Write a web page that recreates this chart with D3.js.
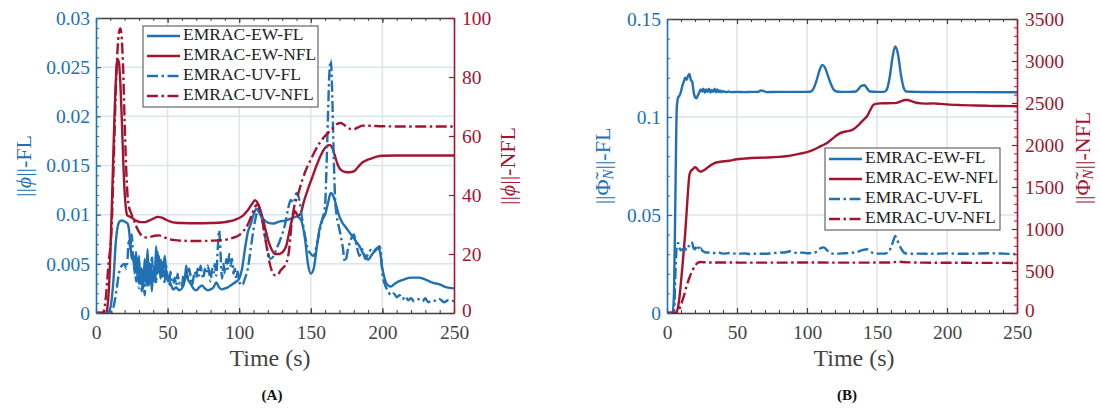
<!DOCTYPE html>
<html><head><meta charset="utf-8">
<script src="https://cdn.jsdelivr.net/npm/d3@7"></script>
<style>
body{margin:0;background:#fff}
text{font-family:"Liberation Serif","Times New Roman",serif}
</style>
</head><body>
<svg id="c" width="1100" height="410"></svg>
<script>
// ---------- shared ----------
const timeTicks = [0,50,100,150,200,250];
const seriesNames = ["EMRAC-EW-FL","EMRAC-EW-NFL","EMRAC-UV-FL","EMRAC-UV-NFL"];

// ---------- Panel A ----------
const aLeftTicks = [0,0.005,0.01,0.015,0.02,0.025,0.03];
const aLeftTickLabels = ["0","0.005","0.01","0.015","0.02","0.025","0.03"];
const aRightTicks = [0,20,40,60,80,100];

const aEwFl = [[0,0],[8,0],[10,0.0005],[12,0.003],[14,0.0075],[16,0.0092],[18,0.0094],[20,0.0093],[22,0.0091],[23,0.0085],[24,0.007],[25,0.0055],[26,0.006],[27,0.004],[28,0.0062],[29,0.0035],[30,0.0058],[31,0.003],[32,0.0045],[33,0.0025],[34,0.0055],[35,0.003],[36,0.0065],[37,0.0028],[38,0.005],[39,0.0022],[40,0.0045],[41,0.0032],[42,0.0068],[43,0.004],[44,0.0058],[45,0.0035],[46,0.0052],[47,0.0045],[48,0.0058],[49,0.0042],[50,0.0038],[52,0.003],[54,0.0024],[56,0.0026],[58,0.0023],[60,0.0025],[62,0.0033],[63,0.0048],[64,0.0035],[66,0.003],[68,0.0025],[70,0.0023],[72,0.0026],[74,0.0028],[76,0.0025],[78,0.0023],[80,0.0024],[82,0.0026],[84,0.0031],[86,0.0026],[88,0.0024],[90,0.0025],[92,0.0026],[94,0.0028],[96,0.003],[98,0.0032],[100,0.0035],[102,0.0045],[104,0.0065],[106,0.0082],[108,0.009],[110,0.01],[112,0.0106],[114,0.0102],[116,0.0097],[118,0.0094],[120,0.0092],[124,0.0091],[128,0.0093],[132,0.0094],[136,0.0096],[140,0.0098],[143,0.0095],[146,0.0075],[148,0.005],[150,0.004],[152,0.0045],[154,0.0065],[156,0.0085],[158,0.0095],[160,0.01],[162,0.0112],[164,0.0122],[166,0.0118],[168,0.0108],[170,0.0098],[172,0.0092],[174,0.0088],[176,0.0084],[178,0.008],[180,0.0076],[182,0.0072],[184,0.0068],[186,0.0062],[188,0.0058],[190,0.0054],[192,0.0058],[194,0.0062],[196,0.0066],[198,0.0064],[200,0.0045],[202,0.0033],[204,0.0028],[206,0.0027],[208,0.0029],[210,0.0031],[215,0.0034],[220,0.0036],[225,0.0036],[230,0.0034],[235,0.0031],[240,0.0029],[245,0.0026],[250,0.0025]];

const aUvFl = [[0,0],[10,0],[12,0.0005],[14,0.002],[16,0.004],[18,0.0048],[20,0.005],[21,0.0045],[22,0.0055],[23,0.0075],[24,0.0065],[25,0.008],[26,0.0052],[27,0.006],[28,0.0032],[29,0.0055],[30,0.0025],[31,0.0048],[32,0.0022],[33,0.0042],[34,0.0018],[35,0.0045],[36,0.0028],[37,0.0052],[38,0.003],[39,0.0058],[40,0.0035],[41,0.0048],[42,0.003],[43,0.0062],[44,0.0042],[45,0.0055],[46,0.0035],[47,0.0045],[48,0.003],[49,0.0048],[50,0.0035],[51,0.0028],[52,0.0042],[53,0.0032],[54,0.003],[55,0.0036],[56,0.0028],[57,0.004],[58,0.003],[59,0.0032],[60,0.0028],[61,0.0038],[62,0.0032],[63,0.0042],[64,0.0035],[65,0.0045],[66,0.0038],[67,0.0028],[68,0.0035],[69,0.0042],[70,0.0036],[71,0.0045],[72,0.0038],[73,0.0048],[74,0.004],[75,0.0035],[76,0.0045],[77,0.004],[78,0.0048],[79,0.0042],[80,0.0032],[81,0.0045],[82,0.004],[83,0.005],[84,0.0038],[85,0.0065],[86,0.0084],[87,0.006],[88,0.0035],[89,0.005],[90,0.004],[91,0.0055],[92,0.0045],[93,0.006],[94,0.0048],[95,0.0055],[96,0.004],[97,0.0045],[98,0.0035],[99,0.0042],[100,0.0032],[102,0.0028],[104,0.0035],[106,0.0045],[108,0.0065],[110,0.0085],[112,0.01],[114,0.0106],[116,0.0095],[118,0.0078],[120,0.0062],[122,0.0055],[124,0.0058],[126,0.0065],[128,0.0072],[130,0.008],[132,0.009],[134,0.0105],[136,0.0115],[138,0.0112],[140,0.0122],[142,0.0115],[144,0.0095],[146,0.0078],[148,0.0065],[150,0.006],[152,0.0058],[154,0.0068],[156,0.0082],[158,0.0095],[160,0.011],[161,0.015],[162,0.02],[163,0.0245],[164,0.0257],[165,0.022],[166,0.016],[167,0.0115],[168,0.01],[170,0.0085],[172,0.007],[174,0.0052],[176,0.0065],[178,0.0075],[180,0.008],[182,0.0068],[184,0.0058],[186,0.0065],[188,0.0055],[190,0.006],[192,0.0064],[194,0.0062],[196,0.0065],[198,0.0068],[199,0.006],[200,0.004],[202,0.0028],[204,0.0022],[206,0.0018],[208,0.002],[210,0.0016],[212,0.0018],[214,0.0014],[216,0.0017],[218,0.0013],[220,0.0015],[222,0.0012],[225,0.0014],[228,0.0012],[230,0.0015],[232,0.0011],[235,0.0013],[238,0.0012],[240,0.0014],[243,0.0011],[246,0.0013],[250,0.0012]];

const aEwNfl = [[0,0],[7,0],[8,2],[9,8],[10,20],[11,35],[12,52],[13,68],[14,80],[15,86],[16,85],[17,78],[18,66],[19,52],[20,41],[21,35],[22,33],[23,32.8],[25,32.3],[28,31.3],[31,30.8],[34,30.8],[37,31.3],[40,32],[43,32.6],[46,32.3],[49,31.6],[52,31],[56,30.6],[60,30.5],[70,30.4],[80,30.5],[88,30.7],[93,31.1],[97,31.6],[100,32.2],[103,33.2],[106,34.8],[109,37],[111,38.2],[113,37.2],[115,34.5],[117,31],[119,27],[121,23.5],[123,21.2],[125,20],[128,20],[131,21],[133,23],[135,27.5],[137,32],[139,34.5],[141,33],[143,33.8],[145,37.5],[148,42],[151,46],[154,50],[157,53.5],[160,56],[163,57],[165,56],[167,53],[169,50],[171,48.5],[174,47.8],[177,47.7],[180,48],[183,49.5],[186,51],[189,51.8],[192,52.3],[196,53],[200,53.3],[210,53.4],[230,53.4],[250,53.4]];

const aUvNfl = [[0,0],[5,0],[6,2],[7,6],[8,12],[9,18],[10,22],[11,30],[12,45],[13,62],[14,78],[15,89],[16,95],[17,96.5],[18,93],[19,82],[20,65],[21,50],[22,40],[23,36],[24,34.5],[26,32],[28,29.5],[30,27.5],[32,26.2],[35,25.6],[38,25.8],[41,26.2],[44,26.3],[47,25.8],[50,25.2],[55,24.7],[60,24.5],[70,24.4],[80,24.5],[88,24.7],[93,25.1],[97,25.7],[100,26.4],[103,27.8],[106,30],[109,33.5],[111,36],[113,36.8],[115,34],[117,29],[119,23],[121,17.5],[123,14],[125,12.8],[127,13],[129,14.5],[131,15.5],[133,17],[135,22],[136.5,30],[138,35],[141,40],[144,45],[147,49],[150,52],[153,55],[156,57.5],[159,59.5],[162,61],[165,62.5],[168,64],[171,64.4],[174,63.5],[177,62.5],[180,62.3],[183,62.9],[186,63.5],[190,63.5],[200,63.3],[220,63.2],[250,63.2]];

// ---------- Panel B ----------
const bLeftTicks = [0,0.05,0.1,0.15];
const bLeftTickLabels = ["0","0.05","0.1","0.15"];
const bRightTicks = [0,500,1000,1500,2000,2500,3000,3500];

const bEwFl = [[0,0],[4,0],[5,0.01],[6,0.06],[7,0.105],[8,0.11],[9,0.111],[10,0.113],[11,0.116],[12,0.118],[13,0.12],[14,0.119],[15,0.121],[16,0.122],[17,0.119],[18,0.118],[19,0.113],[20,0.11],[21,0.1095],[22,0.111],[23,0.1125],[24,0.114],[25,0.113],[26,0.1145],[27,0.1125],[28,0.114],[29,0.1128],[30,0.1145],[31,0.1125],[32,0.1138],[33,0.1128],[34,0.1145],[35,0.1126],[36,0.114],[37,0.1127],[38,0.1135],[39,0.1126],[40,0.1132],[42,0.1127],[44,0.113],[46,0.1127],[50,0.1128],[55,0.1127],[60,0.1128],[65,0.1128],[67,0.1135],[69,0.1133],[71,0.1127],[80,0.1128],[90,0.1128],[100,0.1128],[103,0.113],[105,0.115],[107,0.119],[109,0.124],[111,0.1265],[113,0.125],[115,0.121],[117,0.117],[119,0.114],[121,0.113],[125,0.1128],[130,0.1128],[135,0.113],[137,0.1145],[139,0.116],[141,0.1162],[143,0.1145],[145,0.113],[150,0.1128],[155,0.1128],[157,0.114],[159,0.12],[161,0.13],[163,0.136],[165,0.132],[167,0.122],[169,0.115],[171,0.113],[180,0.1128],[200,0.1127],[220,0.1127],[250,0.1126]];

const bUvFl = [[0,0],[5,0],[6,0.02],[7,0.034],[8,0.0357],[9,0.033],[10,0.032],[11,0.0325],[12,0.0322],[13,0.033],[14,0.032],[15,0.0335],[16,0.0345],[17,0.036],[18,0.0358],[19,0.033],[20,0.0325],[21,0.034],[22,0.0345],[23,0.032],[24,0.033],[25,0.032],[27,0.031],[30,0.0308],[33,0.0305],[36,0.031],[40,0.0303],[45,0.0306],[50,0.0302],[55,0.0304],[60,0.0301],[65,0.0303],[70,0.0302],[75,0.0305],[80,0.0308],[85,0.031],[88,0.0315],[90,0.0312],[93,0.0306],[97,0.0308],[100,0.0305],[105,0.0308],[108,0.0318],[110,0.0332],[112,0.0335],[114,0.0322],[117,0.0305],[120,0.0302],[125,0.0304],[130,0.0306],[135,0.031],[140,0.0322],[143,0.0325],[146,0.031],[150,0.0303],[155,0.0303],[158,0.0308],[160,0.0335],[162,0.0375],[163,0.0393],[164,0.038],[166,0.0345],[168,0.032],[170,0.0305],[175,0.0302],[180,0.0303],[190,0.0302],[200,0.0304],[210,0.0302],[220,0.0303],[230,0.0305],[240,0.0303],[250,0.03]];

const bEwNfl = [[0,0],[6.5,0],[8,80],[9,200],[10,370],[11,550],[12,750],[13,950],[14,1200],[15,1450],[16,1640],[17,1690],[18,1705],[19,1722],[20,1735],[21,1728],[22,1705],[23,1690],[24,1682],[25,1688],[27,1705],[30,1745],[34,1785],[38,1800],[44,1812],[50,1830],[55,1838],[60,1845],[70,1850],[80,1858],[85,1866],[90,1880],[95,1897],[100,1915],[104,1940],[108,1970],[111,1995],[114,2020],[117,2060],[120,2100],[123,2135],[126,2155],[129,2165],[132,2178],[135,2210],[138,2258],[141,2310],[143,2345],[145,2410],[147,2470],[149,2490],[152,2496],[156,2497],[160,2498],[164,2502],[167,2520],[170,2535],[172,2536],[175,2520],[178,2503],[182,2495],[186,2492],[190,2495],[195,2490],[200,2483],[210,2475],[220,2470],[230,2466],[240,2464],[250,2462]];

const bUvNfl = [[0,0],[6,0],[8,20],[10,100],[12,200],[14,320],[16,420],[18,500],[20,560],[22,598],[24,608],[26,605],[30,602],[40,601],[60,600],[80,600],[100,601],[120,600],[140,600],[160,602],[165,610],[170,605],[180,600],[200,598],[220,597],[250,596]];

// ---------- drawing ----------
const BLUE = "#2070b4", RED = "#a2142f", GRAY = "#404040";
const FONT = '"Liberation Serif","Times New Roman",serif';
const DASHDOT = "11,3.5,2.5,3.5";
const svg = d3.select("#c");

function styleAxis(g, color, fs){
  g.attr("font-family", FONT).attr("font-size", fs);
  g.select(".domain").attr("stroke", color).attr("stroke-width", 1.6);
  g.selectAll(".tick line").attr("stroke", color).attr("stroke-width", 1.2);
  g.selectAll(".tick text").attr("fill", color).attr("font-family", FONT).style("font-size", fs + "px");
}

function drawPanel(p){
  const x = d3.scaleLinear().domain([0,250]).range([p.x0,p.x1]);
  const yL = d3.scaleLinear().domain([p.lTicks[0], p.lTicks[p.lTicks.length-1]]).range([p.y1,p.y0]);
  const yR = d3.scaleLinear().domain([p.rTicks[0], p.rTicks[p.rTicks.length-1]]).range([p.y1,p.y0]);
  const g = svg.append("g");

  // grid
  g.selectAll("line.vg").data(timeTicks.slice(1,-1)).join("line").attr("class","vg")
    .attr("x1",d=>x(d)).attr("x2",d=>x(d)).attr("y1",p.y0).attr("y2",p.y1)
    .attr("stroke","#e3e3e3").attr("stroke-width",1.5);
  g.selectAll("line.hg").data(p.lTicks.slice(1,-1)).join("line").attr("class","hg")
    .attr("x1",p.x0).attr("x2",p.x1).attr("y1",d=>yL(d)).attr("y2",d=>yL(d))
    .attr("stroke","#d6e6f2").attr("stroke-width",1.5);

  // clip + lines
  const cid = "clip" + p.name;
  svg.append("clipPath").attr("id",cid).append("rect")
    .attr("x",p.x0).attr("y",p.y0-2).attr("width",p.x1-p.x0).attr("height",p.y1-p.y0+2);
  const lg = g.append("g").attr("clip-path",`url(#${cid})`);
  p.series.forEach(s=>{
    const ys = s.axis === "L" ? yL : yR;
    lg.append("path").datum(s.data)
      .attr("d", d3.line().x(d=>x(d[0])).y(d=>ys(d[1])).curve(d3.curveMonotoneX))
      .attr("fill","none").attr("stroke",s.color).attr("stroke-width",2.4)
      .attr("stroke-linejoin","round")
      .attr("stroke-dasharray", s.dash ? DASHDOT : null);
  });

  // bottom axis
  const minorT = d3.range(0,251,10);
  g.append("g").attr("transform",`translate(0,${p.y1})`)
    .call(d3.axisBottom(x).tickValues(minorT).tickSize(-3).tickFormat("").tickSizeOuter(0))
    .call(a=>{a.select(".domain").remove(); a.selectAll("line").attr("stroke",GRAY);});
  const bx = g.append("g").attr("transform",`translate(0,${p.y1})`)
    .call(d3.axisBottom(x).tickValues(timeTicks).tickSize(-5).tickSizeOuter(0).tickPadding(12).tickFormat(d3.format("d")));
  styleAxis(bx, GRAY, 19.5);
  bx.selectAll(".tick text").attr("fill","#444");
  // top axis
  g.append("g").attr("transform",`translate(0,${p.y0})`)
    .call(d3.axisTop(x).tickValues(minorT).tickSize(-3).tickFormat("").tickSizeOuter(0))
    .call(a=>{a.select(".domain").remove(); a.selectAll("line").attr("stroke",GRAY);});
  const tx = g.append("g").attr("transform",`translate(0,${p.y0})`)
    .call(d3.axisTop(x).tickValues(timeTicks).tickSize(-5).tickSizeOuter(0).tickFormat(""));
  styleAxis(tx, GRAY, 19.5);

  // left axis
  g.append("g").attr("transform",`translate(${p.x0},0)`)
    .call(d3.axisLeft(yL).tickValues(p.lMinor).tickSize(-3).tickFormat("").tickSizeOuter(0))
    .call(a=>{a.select(".domain").remove(); a.selectAll("line").attr("stroke",BLUE);});
  const lx = g.append("g").attr("transform",`translate(${p.x0},0)`)
    .call(d3.axisLeft(yL).tickValues(p.lTicks).tickSize(-5).tickSizeOuter(0).tickPadding(6)
      .tickFormat((d,i)=>p.lLabels[i]));
  styleAxis(lx, BLUE, 19.5);

  // right axis
  if (p.rMinor){
    g.append("g").attr("transform",`translate(${p.x1},0)`)
      .call(d3.axisRight(yR).tickValues(p.rMinor).tickSize(-3).tickFormat("").tickSizeOuter(0))
      .call(a=>{a.select(".domain").remove(); a.selectAll("line").attr("stroke",RED);});
  }
  const rx = g.append("g").attr("transform",`translate(${p.x1},0)`)
    .call(d3.axisRight(yR).tickValues(p.rTicks).tickSize(-5).tickSizeOuter(0).tickPadding(8)
      .tickFormat(d3.format("d")));
  styleAxis(rx, RED, 19.5);
  rx.selectAll(".tick text").filter(d=>d===0).attr("dy","0.2em");

  // axis titles
  function yTitle(tx, ty, color, sym, suffix){
    const t = svg.append("text").attr("transform",`translate(${tx},${ty}) rotate(-90)`)
      .attr("text-anchor","middle").attr("dominant-baseline","middle")
      .attr("font-family",FONT).attr("fill",color).style("font-size","22px");
    t.append("tspan").text("||");
    if (sym === "phi"){
      t.append("tspan").attr("font-style","italic").text("ϕ");
      t.append("tspan").text("||" + suffix);
    } else {
      t.append("tspan").text("Φ\u0303");
      t.append("tspan").attr("font-style","italic").style("font-size","15px").attr("dy",5).text("N");
      t.append("tspan").attr("dy",-5).text("||" + suffix);
    }
  }
  yTitle(p.lTitleX, p.lTitleY, BLUE, p.sym, "-FL");
  yTitle(p.rTitleX, p.rTitleY, RED, p.sym, "-NFL");

  svg.append("text").attr("x",p.xTitleX).attr("y",366).attr("text-anchor","middle")
    .attr("font-family",FONT).attr("fill","#444").style("font-size","24px").text("Time (s)");
  svg.append("text").attr("x",p.capX).attr("y",400).attr("text-anchor","middle")
    .attr("font-family",FONT).attr("fill","#111").style("font-size","15px").style("font-weight","bold").text(p.caption);

  // legend
  const L = p.legend;
  const leg = svg.append("g");
  leg.append("rect").attr("x",L.x).attr("y",L.y).attr("width",L.w).attr("height",L.h)
    .attr("fill","#fff").attr("stroke","#666").attr("stroke-width",1.2);
  p.series.forEach((s,i)=>{
    const yy = L.y + L.first + i*L.step;
    leg.append("line").attr("x1",L.x+4).attr("x2",L.x+37).attr("y1",yy).attr("y2",yy)
      .attr("stroke",s.color).attr("stroke-width",2.6)
      .attr("stroke-dasharray", s.dash ? DASHDOT : null);
    leg.append("text").attr("x",L.x+40).attr("y",yy).attr("dominant-baseline","middle")
      .attr("font-family",FONT).attr("fill","#222").style("font-size","17.5px").text(seriesNames[i]);
  });
}

drawPanel({
  name:"A", x0:96, x1:454, y0:18, y1:313,
  lTicks:aLeftTicks, lLabels:aLeftTickLabels, lMinor:d3.range(0,0.0305,0.001),
  rTicks:aRightTicks, rMinor:null,
  series:[
    {data:aEwFl, color:BLUE, axis:"L", dash:false},
    {data:aEwNfl, color:RED, axis:"R", dash:false},
    {data:aUvFl, color:BLUE, axis:"L", dash:true},
    {data:aUvNfl, color:RED, axis:"R", dash:true}
  ],
  sym:"phi", lTitleX:26, lTitleY:166, rTitleX:510, rTitleY:166,
  xTitleX:270, capX:272, caption:"(A)",
  legend:{x:143, y:26, w:175, h:81, first:10, step:20}
});

drawPanel({
  name:"B", x0:667, x1:1017, y0:19, y1:313,
  lTicks:bLeftTicks, lLabels:bLeftTickLabels, lMinor:d3.range(0,0.1505,0.01),
  rTicks:bRightTicks, rMinor:d3.range(0,3501,100),
  series:[
    {data:bEwFl, color:BLUE, axis:"L", dash:false},
    {data:bEwNfl, color:RED, axis:"R", dash:false},
    {data:bUvFl, color:BLUE, axis:"L", dash:true},
    {data:bUvNfl, color:RED, axis:"R", dash:true}
  ],
  sym:"Phi", lTitleX:605, lTitleY:166, rTitleX:1085, rTitleY:158,
  xTitleX:854, capX:847, caption:"(B)",
  legend:{x:825, y:148, w:175, h:82, first:11, step:20}
});
</script>
</body></html>
